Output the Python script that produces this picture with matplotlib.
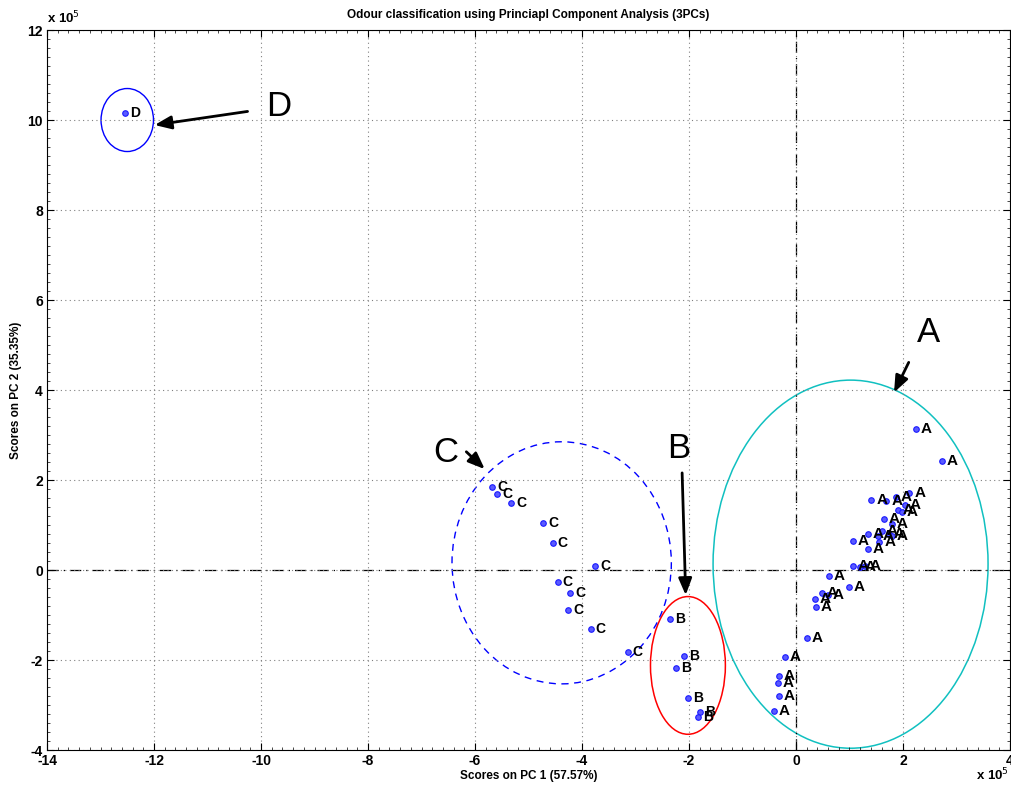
import matplotlib.pyplot as plt
from matplotlib.patches import Ellipse
from matplotlib.ticker import AutoMinorLocator

plt.rcParams['font.family'] = ['Liberation Sans', 'DejaVu Sans']
plt.rcParams['axes.unicode_minus'] = False

# scores (x 1e5)
a_x = [2.24, 2.73, 1.41, 1.69, 1.86, 2.12, 2.04, 1.90, 1.98, 1.64, 1.79, 1.61, 1.34,
       1.74, 1.53, 1.79, 1.56, 1.06, 1.35, 1.07, 1.20, 1.29, 0.62, 0.99, 0.49, 0.36,
       0.60, 0.37, 0.20, -0.21, -0.32, -0.34, -0.32, -0.42]
a_y = [3.13, 2.43, 1.55, 1.54, 1.63, 1.72, 1.44, 1.33, 1.29, 1.13, 1.03, 0.87, 0.81,
       0.81, 0.76, 0.76, 0.62, 0.65, 0.47, 0.09, 0.07, 0.09, -0.14, -0.37, -0.52, -0.64,
       -0.56, -0.82, -1.50, -1.93, -2.36, -2.50, -2.80, -3.13]
b_x = [-2.35, -2.09, -2.24, -2.01, -1.79, -1.83]
b_y = [-1.09, -1.92, -2.17, -2.85, -3.16, -3.26]
c_x = [-5.68, -5.58, -5.32, -4.72, -4.55, -3.75, -4.45, -4.22, -4.26, -3.84, -3.14]
c_y = [1.85, 1.70, 1.48, 1.04, 0.61, 0.10, -0.27, -0.52, -0.88, -1.30, -1.83]
d_x = [-12.54]
d_y = [10.15]

fig = plt.figure(figsize=(10.11, 7.9), dpi=100)
ax = fig.add_axes([0.0465, 0.0506, 0.9525, 0.9114])

groups = [('A', a_x, a_y, 11), ('B', b_x, b_y, 10), ('C', c_x, c_y, 10), ('D', d_x, d_y, 10)]
for name, xs, ys, fs in groups:
    ax.plot(xs, ys, 'o', ms=4, mfc='#5a5aff', mec='#1a1aff', mew=0.8, zorder=3)
    for x, y in zip(xs, ys):
        ax.text(x + 0.09, y, name, fontsize=fs, fontweight='bold', va='center', ha='left', zorder=4)

# cluster ellipses
ax.add_patch(Ellipse((1.02, 0.13), 5.14, 8.18, fill=False, ec='#10c0c0', lw=1.1))
ax.add_patch(Ellipse((-2.02, -2.12), 1.40, 3.06, fill=False, ec='red', lw=1.1))
ax.add_patch(Ellipse((-4.38, 0.16), 4.10, 5.38, fill=False, ec='blue', lw=1.0, ls=(0, (5, 4))))
ax.add_patch(Ellipse((-12.5, 10.0), 0.98, 1.40, fill=False, ec='blue', lw=1.0))

# zero lines
ax.axhline(0, color='black', lw=0.9, ls=(0, (9, 4, 1, 4)), zorder=1)
ax.axvline(0, color='black', lw=0.9, ls=(0, (9, 4, 1, 4)), zorder=1)

# arrows and big labels
arr = dict(arrowstyle='-|>,head_length=1.0,head_width=0.4', color='black', lw=2)
ax.annotate('', xy=(-12.04, 9.88), xytext=(-10.2, 10.2), arrowprops=arr)
ax.text(-9.9, 10.3, 'D', fontsize=25, ha='left', va='center')
ax.annotate('', xy=(1.81, 3.89), xytext=(2.13, 4.67), arrowprops=arr)
ax.text(2.47, 5.27, 'A', fontsize=25, ha='center', va='center')
ax.annotate('', xy=(-2.06, -0.62), xytext=(-2.13, 2.22), arrowprops=arr)
ax.text(-2.2, 2.71, 'B', fontsize=25, ha='center', va='center')
ax.annotate('', xy=(-5.78, 2.2), xytext=(-6.2, 2.67), arrowprops=arr)
ax.text(-6.55, 2.62, 'C', fontsize=25, ha='center', va='center')

ax.set_xlim(-14, 4)
ax.set_ylim(-4, 12)
ax.set_xticks(range(-14, 5, 2))
ax.set_yticks(range(-4, 13, 2))
ax.xaxis.set_minor_locator(AutoMinorLocator(10))
ax.yaxis.set_minor_locator(AutoMinorLocator(10))
ax.tick_params(which='both', direction='in', top=True, right=True, labelsize=10)
ax.tick_params(which='major', length=5, pad=3)
ax.tick_params(which='minor', length=2, width=0.5)
for lab in ax.get_xticklabels() + ax.get_yticklabels():
    lab.set_fontweight('bold')
ax.grid(True, which='major', color='gray', ls=(0, (1, 3)), lw=0.8)

ax.set_title('Odour classification using Princiapl Component Analysis (3PCs)',
             fontsize=8.5, fontweight='bold', pad=9)
ax.set_xlabel('Scores on PC 1 (57.57%)', fontsize=8.5, fontweight='bold', labelpad=1)
ax.set_ylabel('Scores on PC 2 (35.35%)', fontsize=8.5, fontweight='bold', labelpad=4)

ax.text(0.0, 1.005, r'x 10$^{5}$', transform=ax.transAxes, fontsize=9.5, fontweight='bold',
        ha='left', va='bottom')
ax.text(0.999, -0.035, r'x 10$^{5}$', transform=ax.transAxes, fontsize=9.5, fontweight='bold',
        ha='right', va='center')

fig.savefig('out.png', dpi=100)
